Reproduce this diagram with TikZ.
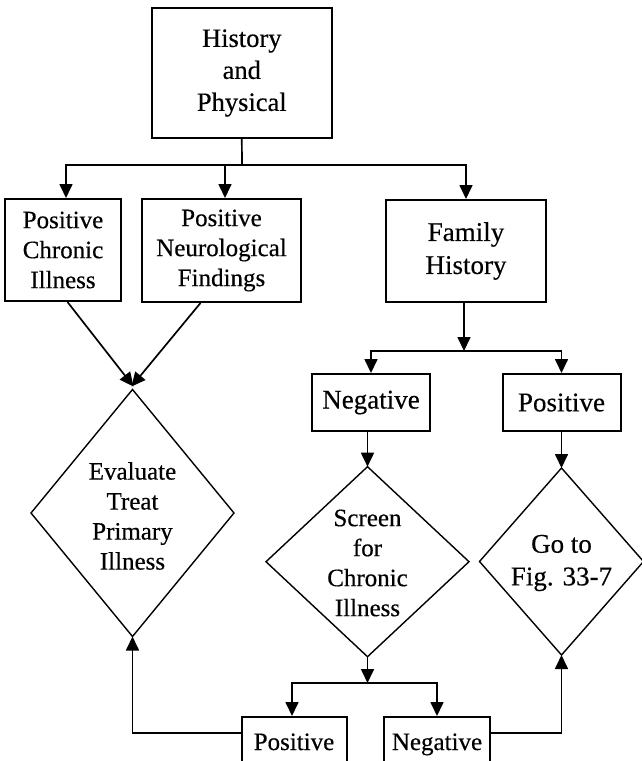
\documentclass[tikz,border=0pt]{standalone}
\usepackage{fontspec}
\setmainfont[FakeBold=0.4]{Liberation Serif}
\usetikzlibrary{arrows.meta,shapes.geometric,calc}
\begin{document}
\begin{tikzpicture}[x=1pt,y=-1pt,
  box/.style={draw, line width=2pt, inner sep=0pt, align=center,
    font=\fontsize{25}{30}\selectfont},
  dia/.style={draw, diamond, line width=1.4pt, inner sep=0pt, outer sep=0pt},
  dtext/.style={align=center, inner sep=0pt, font=\fontsize{25}{30}\selectfont},
  link/.style={line width=1.7pt},
  arr/.style={link, -{Triangle[length=14pt,width=13pt]}},
]
\useasboundingbox (0,0) rectangle (642,761);
\clip (0,0) rectangle (642,761);

% boxes
\node[box, minimum width=179.5pt, minimum height=130pt,
  font=\fontsize{26.5}{32}\selectfont] (hp) at (241.8,73) {History\\and\\Physical};
\node[box, minimum width=116pt, minimum height=102pt] (pci) at (63,250) {Positive\\Chronic\\Illness};
\node[box, minimum width=159pt, minimum height=103pt] (pnf) at (221.5,250.5) {Positive\\Neurological\\Findings};
\node[box, minimum width=160.5pt, minimum height=102pt,
  font=\fontsize{27}{33}\selectfont] (fam) at (466,251) {Family\\History};
\node[box, minimum width=117.5pt, minimum height=57pt,
  font=\fontsize{27}{32}\selectfont] (neg) at (371,402.5) {Negative};
\node[box, minimum width=118pt, minimum height=57pt,
  font=\fontsize{27}{32}\selectfont] (pos) at (561.5,402.5) {Positive};

% decision diamonds
\node[dia, minimum width=203pt, minimum height=247pt] (eval) at (132.5,513) {};
\node[dtext] (evaltxt) at (132.5,516) {Evaluate\\Treat\\Primary\\Illness};
\node[dia, minimum width=203pt, minimum height=190pt] (scr) at (367.5,561.7) {};
\node[dtext] (scrtxt) at (367.5,563) {Screen\\for\\Chronic\\Illness};
\node[dia, minimum width=164pt, minimum height=187pt] (goto) at (561.5,561.5) {};
\node[dtext, font=\fontsize{27}{32.6}\selectfont] (gototxt) at (561.5,563) {Go to\\Fig. 33-7};

% outcome boxes running off the lower edge
\node[box, anchor=north, minimum width=105pt, text height=33pt, text depth=60pt]
  (bpos) at (294,716) {Positive};
\node[box, anchor=north, minimum width=105.5pt, text height=33pt, text depth=60pt]
  (bneg) at (437,716) {Negative};

% connectors
\coordinate (j1) at (242,165);
\draw[link] (hp.south) -- (j1);
\draw[arr] (j1) -| ([xshift=3pt]pci.north);
\draw[arr] (j1) -| ([xshift=3.5pt]pnf.north);
\draw[arr] (j1) -| (fam.north);

\draw[arr] ([xshift=4.5pt]pci.south) -- ([shift={(1,-3)}]eval.north);
\draw[arr] ([xshift=-21pt]pnf.south) -- ([shift={(-1,-3)}]eval.north);

\coordinate (j2) at (464,351);
\draw[arr] (fam.south -| j2) -- (j2);
\draw[arr] (j2) -| (neg.north);
\draw[arr] (j2) -| (pos.north);

\draw[arr] (scr.north |- neg.south) -- (scr.north);
\draw[arr] (pos.south) -- (goto.north);

\coordinate (j3) at (366,683);
\draw[arr] (scr.south) -- (scr.south |- j3);
\draw[arr] (j3) -| ([xshift=-2pt]bpos.north);
\draw[arr] (j3) -| (bneg.north);

\draw[arr] ([yshift=-17pt]bpos.north west) -| (eval.south);
\draw[arr] ([yshift=-17pt]bneg.north east) -| (goto.south);
\end{tikzpicture}
\end{document}
